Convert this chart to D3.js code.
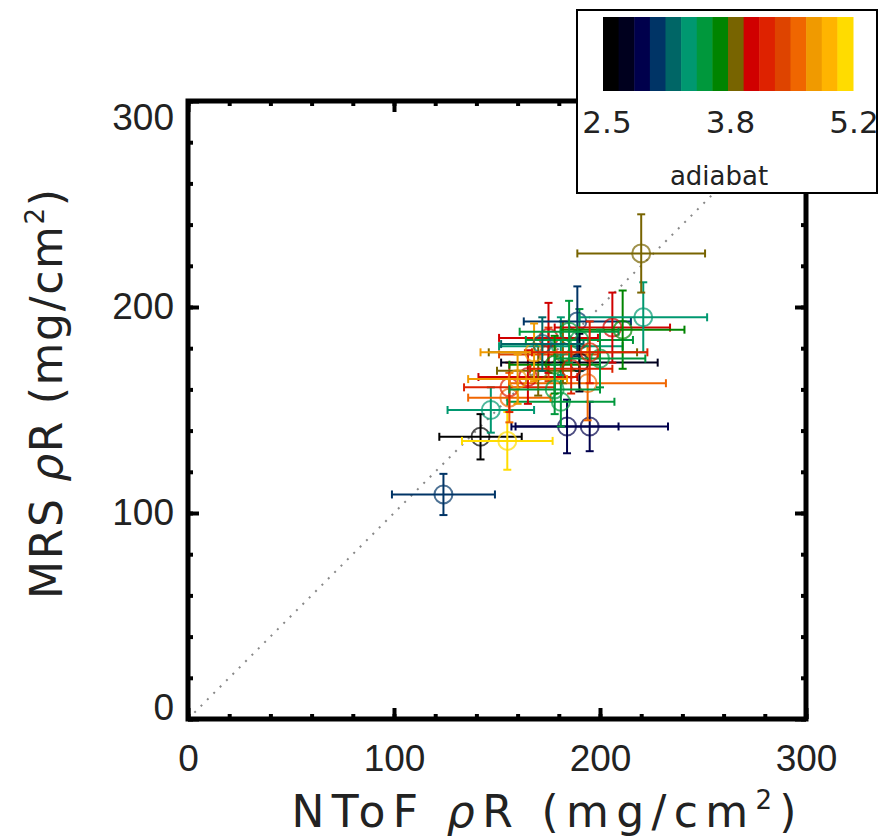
<!DOCTYPE html>
<html>
<head>
<meta charset="utf-8">
<script src="https://cdn.jsdelivr.net/npm/d3@7"></script>
<style>
body { margin: 0; background: #fff; }
svg { display: block; font-family: "DejaVu Sans", sans-serif; }
</style>
</head>
<body>
<svg id="chart" width="879" height="838"></svg>
<script>

/*
 * Data: NToF rhoR, MRS rhoR (mg/cm2), their errors, and adiabat
 */
var ntof    = [124, 142, 155, 147, 184, 195, 181, 156, 156, 194, 165, 170, 175, 182, 181, 175, 190, 190, 189, 206, 211, 221, 220, 178, 168, 186, 200, 172, 160, 185, 195, 178];
var ntofErr = [ 25,  20,  22,  21,  25,  38,  26,  20,  22,  38,  24,  20,  24,  36,  30,  24,  26,  38,  26,  28,  30,  31,  31,  22,  26,  20,  22,  20,  24,  24,  28,  22];
var mrs     = [109, 137, 135, 150, 142, 142, 154, 156, 161, 163, 166, 169, 177, 178, 181, 185, 184, 173, 193, 190, 189, 195, 226, 172, 178, 170, 175, 182, 165, 188, 178, 160];
var mrsErr  = [ 10,  11,  14,  11,  13,  12,  12,  12,  12,  18,  13,  12,  13,  15,  14,  17,  15,  14,  17,  17,  19,  17,  19,  14,  14,  12,  14,  13,  12,  15,  15,  12];
var adiabat = [3.10, 2.55, 5.15, 3.40, 2.90, 3.00, 3.55, 4.60, 4.25, 4.60, 4.05, 3.95, 4.45, 3.90, 3.45, 4.10,
               3.60, 2.70, 3.05, 4.10, 3.80, 3.40, 3.95, 3.70, 4.80, 4.30, 3.55, 3.25, 4.70, 3.65, 4.20, 3.60];

var axisTicks  = [0, 100, 200, 300];
var minorTicks = [0, 20, 40, 60, 80, 100, 120, 140, 160, 180, 200, 220, 240, 260, 280, 300];

var barColors = ["#000000", "#00001e", "#00004c", "#003466", "#006666", "#009870", "#00983c", "#008400",
                 "#786400", "#d00000", "#de2200", "#de4400", "#f06600", "#f09a00", "#ffb400", "#ffdc00"];
var barLabels = ["2.5", "3.8", "5.2"];
var adiabatRange = [2.5, 5.2];

var svg = d3.select("#chart");

// plot frame edges (note: "top" is taken by window.top)
var pLeft = 188, pRight = 806, pTop = 101, pBottom = 719;

var x = d3.scaleLinear().domain([0, 300]).range([pLeft, pRight]);
var y = d3.scaleLinear().domain([0, 300]).range([pBottom, pTop]);
var color = d3.scaleQuantize().domain(adiabatRange).range(barColors);

/*
 * Build point records from the arrays
 */
var points = ntof.map(function(v, i) {
    return { x: v, ex: ntofErr[i], y: mrs[i], ey: mrsErr[i], a: adiabat[i] };
});

// y = x reference line
svg.append("line")
    .attr("x1", x(0)).attr("y1", y(0))
    .attr("x2", x(300)).attr("y2", y(300))
    .attr("stroke", "#888")
    .attr("stroke-width", 2)
    .attr("stroke-dasharray", "2,7");

/*
 * Error bars and circles
 */
var cap = 4;
var g = svg.append("g").attr("fill", "none").attr("stroke-width", 2);
points.forEach(function(p) {
    var c = color(p.a);
    var pg = g.append("g").attr("stroke", c);
    pg.append("line")
        .attr("x1", x(p.x - p.ex)).attr("x2", x(p.x + p.ex))
        .attr("y1", y(p.y)).attr("y2", y(p.y));
    pg.append("line")
        .attr("x1", x(p.x)).attr("x2", x(p.x))
        .attr("y1", y(p.y - p.ey)).attr("y2", y(p.y + p.ey));
    [p.x - p.ex, p.x + p.ex].forEach(function(v) {
        pg.append("line")
            .attr("x1", x(v)).attr("x2", x(v))
            .attr("y1", y(p.y) - cap).attr("y2", y(p.y) + cap);
    });
    [p.y - p.ey, p.y + p.ey].forEach(function(v) {
        pg.append("line")
            .attr("x1", x(p.x) - cap).attr("x2", x(p.x) + cap)
            .attr("y1", y(v)).attr("y2", y(v));
    });
    pg.append("circle")
        .attr("cx", x(p.x)).attr("cy", y(p.y))
        .attr("r", 9)
        .attr("stroke-opacity", 0.7);
});

/*
 * Axes: minor and major ticks pointing inward on all four sides
 */
var axisStyle = function(sel) {
    sel.select(".domain").remove();
    sel.selectAll(".tick line").attr("stroke", "#000").attr("stroke-width", 4);
    sel.selectAll(".tick text").attr("fill", "#222").attr("font-size", 37);
};

var makeAxis = [
    function() { return d3.axisBottom(x); },
    function() { return d3.axisTop(x); },
    function() { return d3.axisLeft(y); },
    function() { return d3.axisRight(y); }
];
var sideShift = [
    "translate(0," + pBottom + ")",
    "translate(0," + pTop + ")",
    "translate(" + pLeft + ",0)",
    "translate(" + pRight + ",0)"
];

makeAxis.forEach(function(mk, i) {
    svg.append("g").attr("transform", sideShift[i])
        .call(mk().tickValues(minorTicks).tickSize(-5).tickFormat(""))
        .call(axisStyle);
    var major = svg.append("g").attr("transform", sideShift[i])
        .call(mk().tickValues(axisTicks).tickSize(-11)
            .tickPadding(i == 0 ? 26 : 14)
            .tickFormat(i == 0 || i == 2 ? d3.format("d") : ""))
        .call(axisStyle);
    if (i == 2) {
        // end labels sit slightly inside the frame
        major.selectAll(".tick text")
            .filter(function(d) { return d == 0; }).attr("dy", "0.02em");
        major.selectAll(".tick text")
            .filter(function(d) { return d == 300; }).attr("dy", "0.78em");
    }
});

// frame
svg.append("rect")
    .attr("x", pLeft).attr("y", pTop)
    .attr("width", pRight - pLeft).attr("height", pBottom - pTop)
    .attr("fill", "none").attr("stroke", "#000").attr("stroke-width", 5);

/*
 * Axis titles
 */
var xt = svg.append("text")
    .attr("x", 544).attr("y", 827)
    .attr("text-anchor", "middle")
    .attr("font-size", 44).attr("fill", "#222")
    .attr("textLength", 505).attr("lengthAdjust", "spacing");
xt.append("tspan").text("NToF ");
xt.append("tspan").attr("font-style", "italic").text("ρ");
xt.append("tspan").text("R (mg/cm");
xt.append("tspan").attr("font-size", 26).attr("dy", -18).text("2");
xt.append("tspan").attr("dy", 18).text(")");

var yt = svg.append("text")
    .attr("transform", "translate(62,394) rotate(-90)")
    .attr("text-anchor", "middle")
    .attr("font-size", 44).attr("fill", "#222")
    .attr("textLength", 410).attr("lengthAdjust", "spacing");
yt.append("tspan").text("MRS ");
yt.append("tspan").attr("font-style", "italic").text("ρ");
yt.append("tspan").text("R (mg/cm");
yt.append("tspan").attr("font-size", 26).attr("dy", -18).text("2");
yt.append("tspan").attr("dy", 18).text(")");

/*
 * Colour bar legend
 */
var cb = svg.append("g");
cb.append("rect")
    .attr("x", 577).attr("y", 10).attr("width", 300).attr("height", 183)
    .attr("fill", "#fff").attr("stroke", "#000").attr("stroke-width", 2);

var cbx = d3.scaleBand().domain(d3.range(barColors.length)).range([603, 853]);
cb.selectAll("rect.swatch")
    .data(barColors)
    .enter().append("rect")
    .attr("class", "swatch")
    .attr("x", function(d, i) { return cbx(i); })
    .attr("y", 17)
    .attr("width", cbx.bandwidth() + 0.5)
    .attr("height", 74)
    .attr("fill", function(d) { return d; });

var cbl = d3.scalePoint().domain(barLabels).range([607, 854]);
cb.selectAll("text.lab")
    .data(barLabels)
    .enter().append("text")
    .attr("class", "lab")
    .attr("x", function(d) { return cbl(d); })
    .attr("y", 133)
    .attr("text-anchor", "middle")
    .attr("font-size", 31).attr("fill", "#222")
    .text(function(d) { return d; });

cb.append("text")
    .attr("x", 719).attr("y", 185)
    .attr("text-anchor", "middle")
    .attr("font-size", 26).attr("fill", "#222")
    .text("adiabat");

</script>
</body>
</html>
